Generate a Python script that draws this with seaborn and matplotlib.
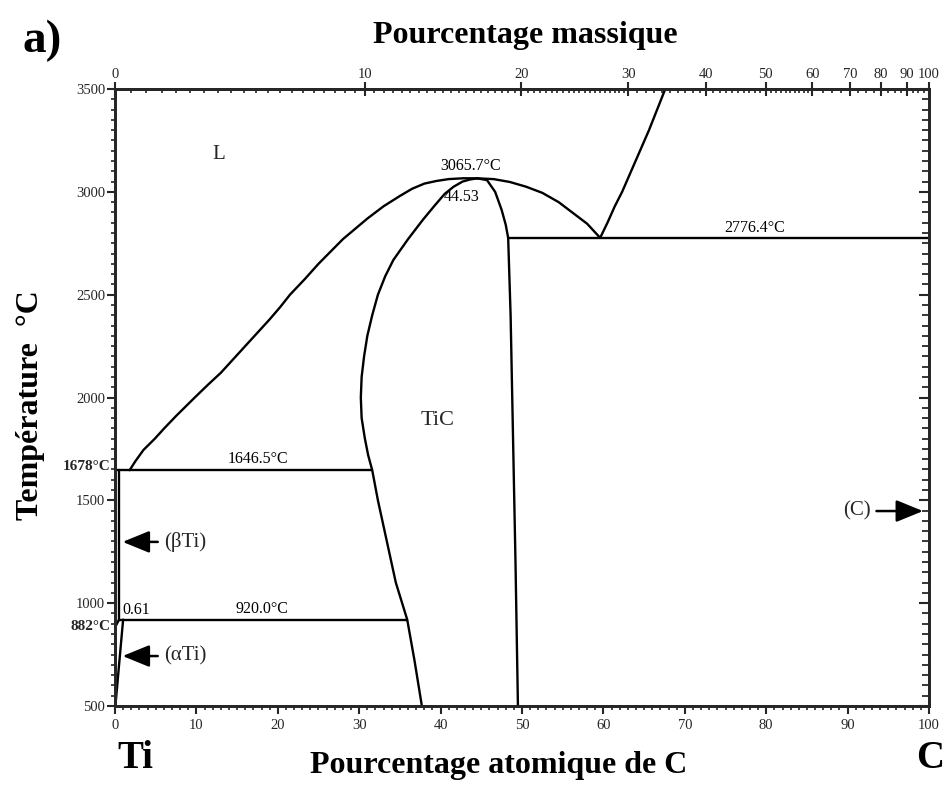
import numpy as np
import pandas as pd
import matplotlib
matplotlib.use("Agg")
import matplotlib.pyplot as plt
from matplotlib.ticker import MultipleLocator, FixedLocator
import seaborn as sns

# ---------------------------------------------------------
#                 DATA (atomic % C, temperature in °C)
# ---------------------------------------------------------

liquidus_ti_x = [1.8, 2.5, 3.5, 4.9, 6, 7.5, 9.8, 11.5, 13, 14.5, 16, 17.5, 19, 20.3, 21.5,
                 23.3, 25, 26.5, 28, 29.5, 31, 33, 35, 36.5, 38, 39.5, 41, 42.8, 44.5]
liquidus_ti_t = [1646.5, 1690, 1745, 1800, 1848, 1910, 2000, 2065, 2120, 2185, 2250, 2315, 2380, 2440, 2500,
                 2575, 2650, 2710, 2770, 2820, 2870, 2930, 2980, 3015, 3040, 3053, 3062, 3066, 3065.7]

liquidus_tic_x = [44.5, 46.5, 48.5, 50.5, 52.5, 54.5, 56.5, 58, 59.6]
liquidus_tic_t = [3065.7, 3062, 3048, 3025, 2995, 2950, 2890, 2845, 2776.4]

liquidus_c_x = [59.6, 60.5, 61.4, 62.3, 63.4, 64.5, 65.6, 66.6, 67.6]
liquidus_c_t = [2776.4, 2850, 2930, 3000, 3100, 3200, 3300, 3400, 3500]

tic_left_x = [44.5, 43.6, 42.7, 41.6, 40.5, 39.2, 37.8, 36, 34.2, 33.2, 32.3, 31.6, 31.0, 30.6,
              30.3, 30.2, 30.3, 30.7, 31.1, 31.6, 32.3, 33.4, 34.5, 35.9, 36.8, 37.7]
tic_left_t = [3065.7, 3060, 3050, 3025, 2990, 2930, 2863, 2770, 2669, 2590, 2500, 2400, 2300, 2200,
              2100, 2000, 1900, 1800, 1720, 1646.5, 1500, 1300, 1100, 920, 720, 500]

tic_right_x = [44.5, 45.7, 46.7, 47.5, 48.0, 48.3, 48.6, 48.9, 49.2, 49.5]
tic_right_t = [3065.7, 3057, 3000, 2912, 2840, 2776.4, 2400, 1800, 1200, 500]

eutectic_x = [48.3, 100]
eutectic_t = [2776.4, 2776.4]

peritectic_x = [0, 31.6]
peritectic_t = [1646.5, 1646.5]

eutectoid_x = [0.5, 35.9]
eutectoid_t = [920, 920]

beta_ti_x = [0.5, 0.5]
beta_ti_t = [1646.5, 920]

alpha_ti_x = [1.0, 0.05]
alpha_ti_t = [920, 500]

alpha_beta_x = [0, 0.5]
alpha_beta_t = [882, 920]

mass_ticks = [0, 10, 20, 30, 40, 50, 60, 70, 80, 90, 100]
temp_ticks = [500, 1000, 1500, 2000, 2500, 3000, 3500]

M_C, M_TI = 12.011, 47.867


def at_to_wt(a):
    a = np.asarray(a, dtype=float)
    return 100 * a * M_C / (a * M_C + (100 - a) * M_TI)


def wt_to_at(w):
    w = np.asarray(w, dtype=float)
    return 100 * (w / M_C) / (w / M_C + (100 - w) / M_TI)


# ---------------------------------------------------------
#                 PLOTTING
# ---------------------------------------------------------

sns.set_style("ticks")
plt.rcParams["font.family"] = ["Liberation Serif", "DejaVu Serif"]

fig = plt.figure(figsize=(9.51, 7.87), dpi=100)
ax = fig.add_axes([0.1209, 0.1029, 0.8560, 0.7840])

curves = [
    (liquidus_ti_x, liquidus_ti_t), (liquidus_tic_x, liquidus_tic_t),
    (liquidus_c_x, liquidus_c_t), (tic_left_x, tic_left_t),
    (tic_right_x, tic_right_t), (eutectic_x, eutectic_t),
    (peritectic_x, peritectic_t), (eutectoid_x, eutectoid_t),
    (beta_ti_x, beta_ti_t), (alpha_ti_x, alpha_ti_t),
    (alpha_beta_x, alpha_beta_t),
]
for cx, ct in curves:
    df = pd.DataFrame({"x": cx, "t": ct})
    sns.lineplot(data=df, x="x", y="t", sort=False, estimator=None,
                 color="black", linewidth=1.7, ax=ax)

ax.set_xlim(0, 100)
ax.set_ylim(500, 3500)
ax.set_xlabel("")
ax.set_ylabel("")

for s in ax.spines.values():
    s.set_linewidth(2.0)

ax.xaxis.set_major_locator(MultipleLocator(10))
ax.xaxis.set_minor_locator(MultipleLocator(1))
ax.yaxis.set_major_locator(FixedLocator(temp_ticks))
ax.yaxis.set_minor_locator(MultipleLocator(50))
ax.tick_params(which="major", direction="out", length=6, width=1.5, labelsize=10.5, pad=3)
ax.tick_params(which="minor", direction="out", length=3, width=1.2)
ax.tick_params(axis="y", pad=1)

# right axis: inward ticks, no labels
twin = ax.twinx()
twin.set_ylim(500, 3500)
twin.yaxis.set_major_locator(FixedLocator(temp_ticks))
twin.yaxis.set_minor_locator(MultipleLocator(50))
twin.tick_params(which="both", right=True, left=False, labelright=False, labelleft=False)
twin.tick_params(which="major", direction="in", length=7, width=1.5)
twin.tick_params(which="minor", direction="in", length=5, width=1.3)
for s in twin.spines.values():
    s.set_linewidth(2.0)

# top axis: mass percent
sec_t = ax.secondary_xaxis("top", functions=(at_to_wt, wt_to_at))
sec_t.xaxis.set_major_locator(FixedLocator(mass_ticks))
minor_w = list(np.arange(0, 30, 0.5)) + list(np.arange(30, 60, 1)) + list(np.arange(60, 100, 2.5))
sec_t.xaxis.set_minor_locator(FixedLocator(minor_w))
sec_t.tick_params(which="major", direction="inout", length=10, width=1.5, labelsize=10.5, pad=1)
sec_t.tick_params(which="minor", direction="in", length=3, width=1.2)
sec_t.spines["top"].set_linewidth(2.0)

# axis titles
bold = dict(fontweight="bold", color="black")
fig.text(0.552, 0.955, "Pourcentage massique", ha="center", va="center", fontsize=23, **bold)
fig.text(0.524, 0.027, "Pourcentage atomique de C", ha="center", va="center", fontsize=23, **bold)
fig.text(0.032, 0.485, "Température  °C", ha="center", va="center", rotation=90, fontsize=23, **bold)
fig.text(0.044, 0.948, "a)", ha="center", va="center", fontsize=34, **bold)
fig.text(0.142, 0.036, "Ti", ha="center", va="center", fontsize=28, **bold)
fig.text(0.978, 0.036, "C", ha="center", va="center", fontsize=28, **bold)

# labels on the left axis
ax.text(-0.6, 1667, "1678°C", ha="right", va="center", fontsize=11, fontweight="bold")
ax.text(-0.6, 885, "882°C", ha="right", va="center", fontsize=11, fontweight="bold")

# region and point labels
small = dict(fontsize=11.5, color="black")
ax.text(12.7, 3180, "L", ha="center", va="center", fontsize=15)
ax.text(43.7, 3125, "3065.7°C", ha="center", va="center", **small)
ax.text(42.6, 2975, "44.53", ha="center", va="center", **small)
ax.text(78.6, 2825, "2776.4°C", ha="center", va="center", **small)
ax.text(39.6, 1886, "TiC", ha="center", va="center", fontsize=16)
ax.text(17.6, 1700, "1646.5°C", ha="center", va="center", **small)
ax.text(18.0, 973, "920.0°C", ha="center", va="center", **small)
ax.text(0.9, 965, "0.61", ha="left", va="center", **small)

arrow = dict(arrowstyle="-|>,head_length=1.1,head_width=0.45", color="black", lw=1.8)
ax.annotate("(βTi)", xy=(0.6, 1298), xytext=(6.0, 1298), ha="left", va="center",
            fontsize=15, arrowprops=arrow)
ax.annotate("(αTi)", xy=(0.6, 743), xytext=(6.0, 743), ha="left", va="center",
            fontsize=15, arrowprops=arrow)
ax.annotate("(C)", xy=(99.6, 1448), xytext=(92.8, 1448), ha="right", va="center",
            fontsize=15, arrowprops=arrow)

fig.savefig("out.png", dpi=100)
